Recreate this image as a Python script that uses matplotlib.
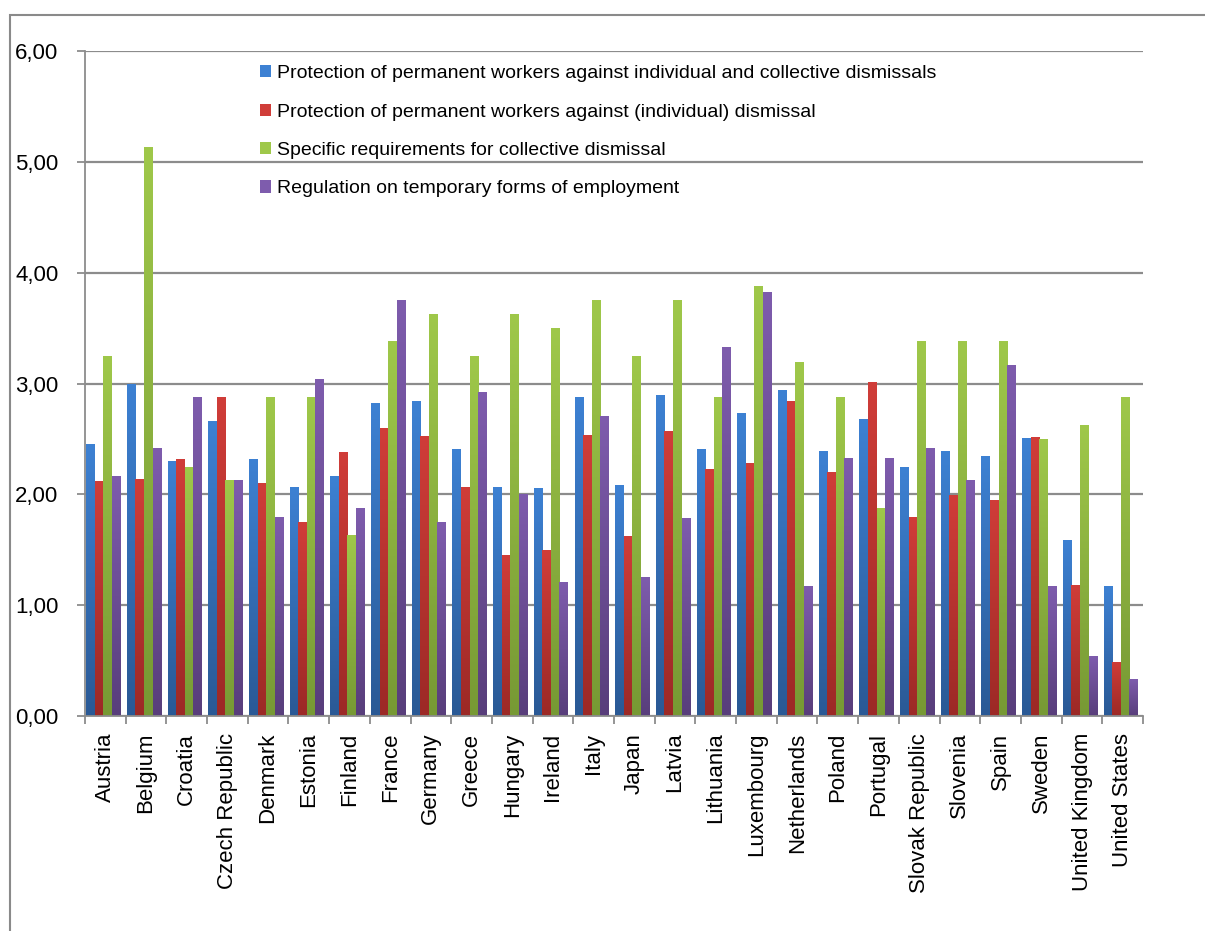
import numpy as np
import matplotlib
matplotlib.use("Agg")
import matplotlib.pyplot as plt
from matplotlib.colors import LinearSegmentedColormap
from matplotlib.patches import Rectangle
from matplotlib.ticker import FuncFormatter, FixedLocator

countries = [
    "Austria", "Belgium", "Croatia", "Czech Republic", "Denmark", "Estonia",
    "Finland", "France", "Germany", "Greece", "Hungary", "Ireland", "Italy",
    "Japan", "Latvia", "Lithuania", "Luxembourg", "Netherlands", "Poland",
    "Portugal", "Slovak Republic", "Slovenia", "Spain", "Sweden",
    "United Kingdom", "United States",
]

series_names = [
    "Protection of permanent workers against individual and collective dismissals",
    "Protection of permanent workers against (individual) dismissal",
    "Specific requirements for collective dismissal",
    "Regulation on temporary forms of employment",
]

indiv_collective = [2.45, 3.00, 2.30, 2.66, 2.32, 2.07, 2.17, 2.82, 2.84, 2.41,
                    2.07, 2.06, 2.88, 2.08, 2.90, 2.41, 2.73, 2.94, 2.39, 2.68,
                    2.25, 2.39, 2.35, 2.51, 1.59, 1.17]
individual = [2.12, 2.14, 2.32, 2.88, 2.10, 1.75, 2.38, 2.60, 2.53, 2.07,
              1.45, 1.50, 2.54, 1.62, 2.57, 2.23, 2.28, 2.84, 2.20, 3.01,
              1.80, 1.99, 1.95, 2.52, 1.18, 0.49]
collective = [3.25, 5.13, 2.25, 2.13, 2.88, 2.88, 1.63, 3.38, 3.63, 3.25,
              3.63, 3.50, 3.75, 3.25, 3.75, 2.88, 3.88, 3.19, 2.88, 1.88,
              3.38, 3.38, 3.38, 2.50, 2.63, 2.88]
temporary = [2.17, 2.42, 2.88, 2.13, 1.80, 3.04, 1.88, 3.75, 1.75, 2.92,
             2.00, 1.21, 2.71, 1.25, 1.79, 3.33, 3.83, 1.17, 2.33, 2.33,
             2.42, 2.13, 3.17, 1.17, 0.54, 0.33]

# (bottom, top) shades of each series
shades = [("#2A5995", "#3D81D3"), ("#9C2926", "#D03D39"),
          ("#779934", "#9FC84A"), ("#583E7B", "#7E5CAD")]

plt.rcParams["font.family"] = ["Liberation Sans", "DejaVu Sans"]
grid_col = "#8C8C8C"

fig = plt.figure(figsize=(12.05, 9.31), dpi=100)
ax = fig.add_axes([0.0705, 0.2309, 0.8781, 0.7143])

x = np.arange(len(countries))
width = 0.21
offset = -0.05
all_series = [indiv_collective, individual, collective, temporary]
grad = np.linspace(0, 1, 256).reshape(-1, 1)

for k, (vals, name, (c0, c1)) in enumerate(zip(all_series, series_names, shades)):
    pos = x + offset + (k - 1.5) * width
    bars = ax.bar(pos, vals, width, color=c1, label=name, zorder=2, linewidth=0)
    cmap = LinearSegmentedColormap.from_list(f"s{k}", [c0, c1])
    for b in bars:
        bx, bw, bh = b.get_x(), b.get_width(), b.get_height()
        im = ax.imshow(grad, cmap=cmap, origin="lower", aspect="auto",
                       extent=[bx, bx + bw, 0, bh], zorder=2.5)
        im.set_clip_path(b)

ax.set_xlim(-0.5, len(countries) - 0.5)
ax.set_ylim(0, 6)
ax.set_yticks(np.arange(0, 7, 1))
ax.yaxis.set_major_formatter(FuncFormatter(lambda v, p: f"{v:.2f}".replace(".", ",")))
ax.yaxis.grid(True, color=grid_col, linewidth=1.6, zorder=0)
ax.set_axisbelow(True)

ax.set_xticks(x)
ax.set_xticklabels(countries, rotation=90, fontsize=16)
ax.xaxis.set_minor_locator(FixedLocator(np.arange(-0.5, len(countries), 1)))
ax.tick_params(axis="x", which="major", length=0, pad=12)
ax.tick_params(axis="x", which="minor", length=6, width=1.3, color=grid_col)
ax.tick_params(axis="y", length=6, width=1.3, color=grid_col, labelsize=16, pad=13)

for s in ["top", "right"]:
    ax.spines[s].set_visible(False)
for s in ["left", "bottom"]:
    ax.spines[s].set_color(grid_col)
    ax.spines[s].set_linewidth(1.3)

ax.legend(loc="upper left", bbox_to_anchor=(0.2075, 0.9405),
          bbox_transform=fig.transFigure, frameon=False, fontsize=14,
          handlelength=0.6, handleheight=0.6, handletextpad=0.3,
          labelspacing=1.1, borderpad=0)

# outer chart frame
fig.add_artist(Rectangle((10 / 1205, -0.1), 1.2, 1 - 15 / 931 + 0.1,
                         transform=fig.transFigure, fill=False,
                         edgecolor="#8A8A8A", linewidth=1.5))

fig.savefig("out.png", dpi=100)
